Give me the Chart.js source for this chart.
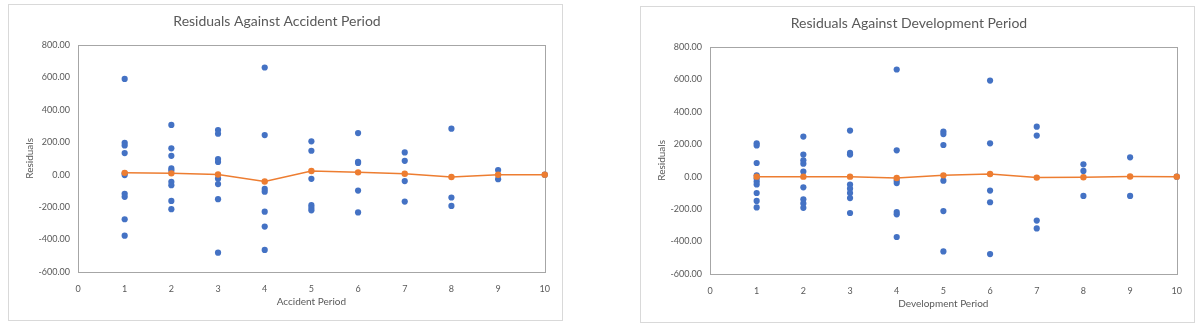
<!DOCTYPE html>
<html>
<head>
<meta charset="utf-8">
<script src="https://cdn.jsdelivr.net/npm/chart.js@4.4.1/dist/chart.umd.min.js"></script>
<style>
    body { margin: 0; background: #fff; width: 1200px; height: 334px; position: relative; overflow: hidden; }
    .box { position: absolute; width: 553px; height: 315px; border: 1px solid #d9d9d9; background: #fff; }
    #boxA { left: 8px; top: 4px; }
    #boxD { left: 640px; top: 6px; }
</style>
</head>
<body>
<div class="box" id="boxA"><canvas id="accidentChart"></canvas></div>
<div class="box" id="boxD"><canvas id="developmentChart"></canvas></div>
<script>
const periods = [1, 2, 3, 4, 5, 6, 7, 8, 9, 10];
const yTicks = [-600, -400, -200, 0, 200, 400, 600, 800];

// residuals grouped by accident period (row of the triangle)
const accidentResiduals = [
    [590, 196, 180, 133, 8, -3, -118, -137, -275, -376],
    [306, 162, 116, 38, 25, -44, -65, -162, -213],
    [275, 252, 96, 78, -25, -58, -151, -481],
    [660, 244, -88, -105, -228, -320, -464],
    [205, 147, -26, -188, -205, -220],
    [256, 79, 72, -98, -233],
    [137, 85, -40, -166],
    [283, -141, -193],
    [28, -28],
    [0]
];
const accidentAverage = [11, 8, 1, -42, 22, 14, 5, -15, -1, 0];

// residuals grouped by development period (column of the triangle)
const developmentResiduals = [
    [205, 192, 84, 8, -12, -30, -48, -101, -150, -190],
    [247, 136, 101, 80, 31, -66, -140, -165, -192],
    [284, 146, 136, -49, -74, -101, -132, -224],
    [660, 162, -25, -40, -218, -232, -372],
    [278, 262, 195, -25, -212, -461],
    [592, 205, -86, -158, -477],
    [308, 253, -271, -319],
    [76, 35, -119],
    [119, -119],
    [0]
];
const developmentAverage = [0, 0, 0, -8, 8, 16, -6, -4, 1, 0];

Chart.defaults.font.family = 'Lato';
Chart.defaults.color = '#595959';

// grey frame round the plot area
const plotFrame = {
    id: 'plotFrame',
    beforeDatasetsDraw(chart) {
        const { ctx, chartArea: a } = chart;
        ctx.save();
        ctx.strokeStyle = '#a6a6a6';
        ctx.lineWidth = 1;
        ctx.strokeRect(Math.round(a.left) + 0.5, Math.round(a.top) + 0.5,
            Math.round(a.right - a.left), Math.round(a.bottom - a.top));
        ctx.restore();
    }
};

function makeChart(canvasId, titleText, xTitle, residuals, average) {
    const points = [];
    residuals.forEach((vals, i) => {
        vals.forEach(v => points.push({ x: periods[i], y: v }));
    });
    const avgPoints = average.map((v, i) => ({ x: periods[i], y: v }));

    return new Chart(document.getElementById(canvasId), {
        type: 'scatter',
        data: {
            datasets: [
                {
                    label: 'Average',
                    data: avgPoints,
                    showLine: true,
                    borderColor: '#ED7D31',
                    backgroundColor: '#ED7D31',
                    borderWidth: 1.5,
                    pointRadius: 3.2,
                    pointBorderWidth: 0,
                    clip: false,
                    order: 0
                },
                {
                    label: 'Residuals',
                    data: points,
                    backgroundColor: '#4472C4',
                    pointRadius: 3.1,
                    pointBorderWidth: 0,
                    clip: false,
                    order: 1
                }
            ]
        },
        options: {
            responsive: true,
            maintainAspectRatio: false,
            animation: false,
            layout: { padding: { right: 17 } },
            plugins: {
                legend: { display: false },
                tooltip: { enabled: false },
                title: {
                    display: true,
                    text: titleText,
                    color: '#595959',
                    font: { size: 14, weight: 'normal' },
                    padding: { top: 8, bottom: 15 }
                }
            },
            scales: {
                x: {
                    type: 'linear',
                    min: 0,
                    max: 10,
                    grid: { display: false, drawTicks: false },
                    border: { display: false },
                    ticks: { stepSize: 1, padding: 12, font: { size: 9 } },
                    title: {
                        display: true,
                        text: xTitle,
                        font: { size: 10 },
                        padding: { top: 4, bottom: 12 }
                    },
                    afterFit: s => { s.height = 48; }
                },
                y: {
                    min: yTicks[0],
                    max: yTicks[yTicks.length - 1],
                    grid: { display: false, drawTicks: false },
                    border: { display: false },
                    ticks: {
                        stepSize: 200,
                        padding: 8,
                        font: { size: 9 },
                        callback: v => v.toFixed(2)
                    },
                    title: {
                        display: true,
                        text: 'Residuals',
                        font: { size: 10 },
                        padding: { top: 15, bottom: 0 }
                    },
                    afterFit: s => { s.width = 69; }
                }
            }
        },
        plugins: [plotFrame]
    });
}

makeChart('accidentChart', 'Residuals Against Accident Period', 'Accident Period',
    accidentResiduals, accidentAverage);
makeChart('developmentChart', 'Residuals Against Development Period', 'Development Period',
    developmentResiduals, developmentAverage);
</script>
</body>
</html>
